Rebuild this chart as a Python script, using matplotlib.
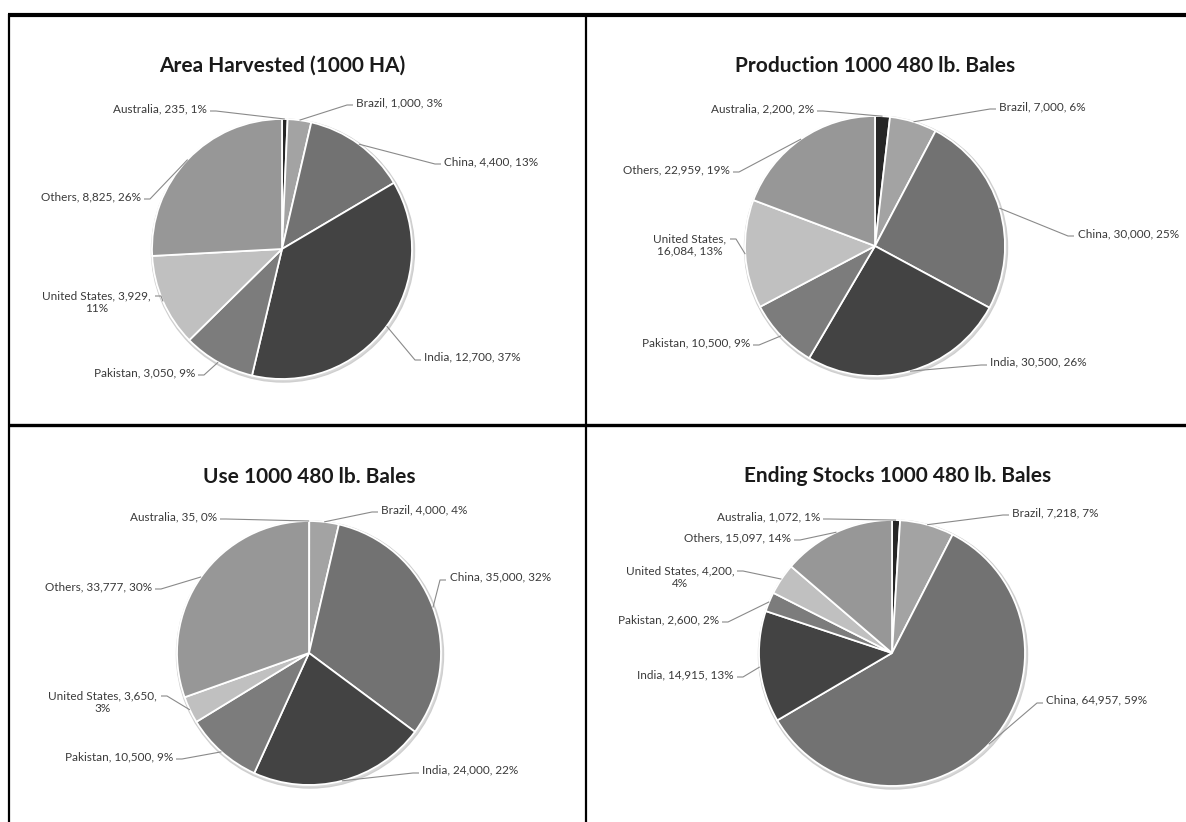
import numpy as np
import matplotlib
matplotlib.use("Agg")
import matplotlib.pyplot as plt
from matplotlib.patches import Circle

W, H = 1186, 822

countries = ["Australia", "Brazil", "China", "India", "Pakistan", "United States", "Others"]

area_values = [235, 1000, 4400, 12700, 3050, 3929, 8825]
area_pct = [1, 3, 13, 37, 9, 11, 26]

prod_values = [2200, 7000, 30000, 30500, 10500, 16084, 22959]
prod_pct = [2, 6, 25, 26, 9, 13, 19]

use_values = [35, 4000, 35000, 24000, 10500, 3650, 33777]
use_pct = [0, 4, 32, 22, 9, 3, 30]

stocks_values = [1072, 7218, 64957, 14915, 2600, 4200, 15097]
stocks_pct = [1, 7, 59, 13, 2, 4, 14]

titles = ["Area Harvested (1000 HA)", "Production 1000 480 lb. Bales",
          "Use 1000 480 lb. Bales", "Ending Stocks 1000 480 lb. Bales"]

slice_colors = ["#262626", "#a3a3a3", "#727272", "#434343", "#7c7c7c", "#c0c0c0", "#979797"]

plt.rcParams["font.family"] = ["Lato", "DejaVu Sans"]

# ---- layout (pixel coordinates, origin top-left) ----
layouts = [
    dict(c=(282, 249), r=130, t=(282, 66)),
    dict(c=(875, 246), r=130, t=(875, 66)),
    dict(c=(309, 653), r=132, t=(309, 477)),
    dict(c=(892, 653), r=133, t=(898, 476)),
]
# label anchors: (text x, text y, ha, leader start x, leader start y, two-line split)
label_layout = [
    [(207, 109, "right", 210, 111, None), (356, 103, "left", 353, 105, None),
     (444, 162, "left", 441, 164, None), (424, 357, "left", 421, 360, None),
     (195, 373, "right", 198, 375, None), (151, 302, "right", 155, 296, 2),
     (141, 197, "right", 144, 199, None)],
    [(814, 109, "right", 817, 111, None), (999, 107, "left", 996, 109, None),
     (1078, 234, "left", 1074, 236, None), (990, 362, "left", 987, 365, None),
     (750, 343, "right", 753, 345, None), (726, 245, "right", 730, 239, 1),
     (730, 170, "right", 733, 172, None)],
    [(217, 517, "right", 220, 519, None), (381, 510, "left", 378, 512, None),
     (450, 577, "left", 446, 580, None), (422, 770, "left", 419, 773, None),
     (173, 757, "right", 176, 759, None), (157, 702, "right", 161, 696, 2),
     (152, 587, "right", 155, 589, None)],
    [(820, 517, "right", 823, 519, None), (1012, 513, "left", 1009, 515, None),
     (1046, 700, "left", 1043, 703, None), (734, 675, "right", 737, 677, None),
     (719, 620, "right", 722, 622, None), (734, 577, "right", 737, 571, 2),
     (791, 538, "right", 794, 540, None)],
]

datasets = [(area_values, area_pct), (prod_values, prod_pct),
            (use_values, use_pct), (stocks_values, stocks_pct)]

fig = plt.figure(figsize=(W / 100, H / 100), dpi=100)
ax = fig.add_axes([0, 0, 1, 1])


def Y(y):
    return H - y


for k, ((vals, pcts), lay, labs, title) in enumerate(zip(datasets, layouts, label_layout, titles)):
    cx, cy = lay["c"]
    r = lay["r"]
    ax.add_patch(Circle((cx + 1, Y(cy) - 1.5), r + 1.5, facecolor="#d9d9d9",
                        edgecolor="#cfcfcf", lw=1.0, zorder=0))
    wedges, _ = ax.pie(vals, colors=slice_colors, startangle=90, counterclock=False,
                       center=(cx, Y(cy)), radius=r,
                       wedgeprops=dict(edgecolor="white", linewidth=1.3))
    for w in wedges:
        w.set_zorder(1)
    ax.text(lay["t"][0], Y(lay["t"][1]), title, ha="center", va="center",
            fontsize=15, fontweight="bold", color="#1a1a1a")
    for i, (name, v, p) in enumerate(zip(countries, vals, pcts)):
        tx, ty, ha, lx, ly, split = labs[i]
        parts = [f"{name}", f"{v:,}", f"{p}%"]
        if split is None:
            txt = ", ".join(parts)
        else:
            txt = ", ".join(parts[:split]) + ",\n" + ", ".join(parts[split:])
        ax.text(tx, Y(ty), txt, ha=ha, va="center", fontsize=8.5, color="#3a3a3a",
                multialignment="center", linespacing=1.2)
        w = wedges[i]
        mid = np.deg2rad((w.theta1 + w.theta2) / 2)
        ex, ey = cx + r * np.cos(mid), Y(cy) + r * np.sin(mid)
        step = 6 if ha == "left" else -6
        ax.plot([lx, lx - step, ex], [Y(ly), Y(ly), ey], color="#8a8a8a", lw=0.8,
                solid_capstyle="butt", zorder=2)

# frame lines
ax.plot([8, W], [Y(15), Y(15)], color="black", lw=3.0, solid_capstyle="butt")
ax.plot([9, 9], [Y(14), 0], color="black", lw=1.6, solid_capstyle="butt")
ax.plot([586, 586], [Y(15), 0], color="black", lw=1.6, solid_capstyle="butt")
ax.plot([9, W], [Y(425), Y(425)], color="black", lw=2.4, solid_capstyle="butt")

ax.set_xlim(0, W)
ax.set_ylim(0, H)
ax.set_aspect("auto")
ax.axis("off")

fig.savefig("out.png", dpi=100, facecolor="white")
